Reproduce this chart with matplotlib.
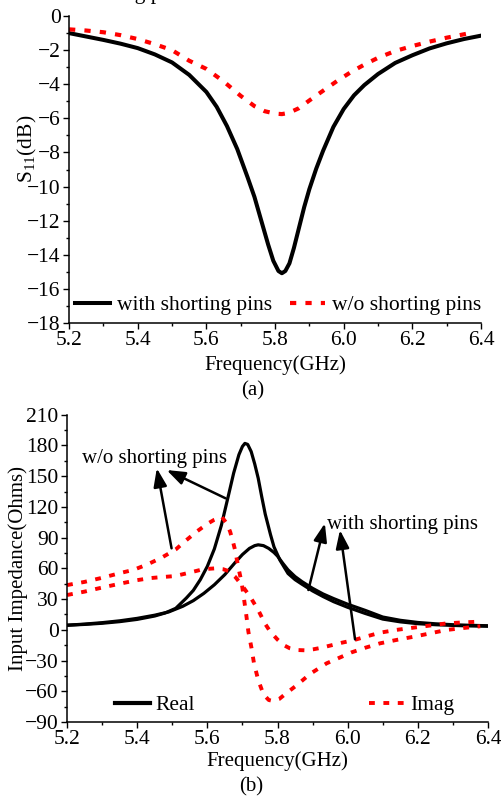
import matplotlib
matplotlib.use('Agg')
import matplotlib.pyplot as plt
from matplotlib.lines import Line2D
from matplotlib.ticker import MultipleLocator, FormatStrFormatter

plt.rcParams['font.family'] = ['Liberation Serif', 'DejaVu Serif']
plt.rcParams['axes.linewidth'] = 1.1

# (a) S11 in dB
f_with = [5.20, 5.25, 5.30, 5.35, 5.40, 5.45, 5.50, 5.55, 5.60, 5.63, 5.66, 5.69, 5.72, 5.74,
          5.76, 5.78, 5.795, 5.81, 5.82, 5.83, 5.842, 5.855, 5.87, 5.885, 5.90, 5.92, 5.94,
          5.97, 6.00, 6.03, 6.06, 6.10, 6.15, 6.20, 6.25, 6.30, 6.35, 6.40]
s11_with = [-1.00, -1.20, -1.40, -1.62, -1.88, -2.25, -2.72, -3.45, -4.45, -5.32, -6.45, -7.8,
            -9.45, -10.6, -12.0, -13.4, -14.35, -14.95, -15.08, -14.95, -14.5, -13.6, -12.4,
            -11.2, -10.15, -8.95, -7.9, -6.5, -5.45, -4.65, -4.05, -3.4, -2.75, -2.3, -1.9,
            -1.6, -1.35, -1.15]
f_wo = [5.20, 5.25, 5.30, 5.35, 5.40, 5.45, 5.50, 5.55, 5.60, 5.65, 5.70, 5.74, 5.77, 5.80,
        5.82, 5.84, 5.87, 5.90, 5.94, 5.98, 6.02, 6.06, 6.10, 6.15, 6.20, 6.25, 6.30, 6.373]
s11_wo = [-0.78, -0.85, -0.95, -1.12, -1.35, -1.65, -2.0, -2.62, -3.1, -3.83, -4.68, -5.28,
          -5.58, -5.72, -5.75, -5.68, -5.4, -4.95, -4.38, -3.82, -3.3, -2.85, -2.45, -2.05,
          -1.76, -1.5, -1.27, -0.98]

# (b) input impedance, real parts
f_re_wo = [5.20, 5.25, 5.30, 5.35, 5.40, 5.45, 5.48, 5.51, 5.54, 5.56, 5.58, 5.60, 5.62, 5.64,
           5.66, 5.675, 5.69, 5.70, 5.707, 5.715, 5.725, 5.735, 5.745, 5.755, 5.765, 5.78,
           5.79, 5.807, 5.83, 5.85, 5.87, 5.90, 5.93, 5.96, 6.00, 6.05, 6.10, 6.15, 6.20,
           6.25, 6.30, 6.35, 6.40]
re_wo = [4.5, 5.3, 6.4, 8.0, 10.2, 13.5, 16.5, 21, 31, 38.5, 49, 62, 79, 102,
         131, 153, 171, 179, 182, 181, 174, 162, 148, 130, 113, 93,
         81, 68, 55, 49, 44.5, 38, 32.5, 27.5, 22, 16, 10.5, 7.8, 6.0,
         5.0, 4.3, 3.8, 3.5]
f_re_with = [5.20, 5.25, 5.30, 5.35, 5.40, 5.45, 5.49, 5.53, 5.56, 5.59, 5.62, 5.65, 5.68,
             5.70, 5.72, 5.735, 5.745, 5.76, 5.775, 5.79, 5.80, 5.815, 5.83, 5.85, 5.87,
             5.90, 5.93, 5.96, 6.00, 6.05, 6.10, 6.15, 6.20, 6.25, 6.30, 6.35, 6.40]
re_with = [4.5, 5.6, 7.0, 8.8, 11.2, 14.3, 17.5, 23, 28.5, 35.6, 44, 54, 66,
           73.5, 79.5, 82.2, 83, 82.2, 79.5, 75.5, 72, 65, 58.5, 52, 47,
           40.5, 35, 30.5, 25, 19, 12.5, 9.3, 7.2, 5.9, 5.0, 4.4, 4.0]

# imaginary parts
f_im_wo = [5.20, 5.25, 5.30, 5.35, 5.39, 5.43, 5.47, 5.51, 5.54, 5.57, 5.60, 5.62, 5.641,
           5.655, 5.665, 5.673, 5.679, 5.688, 5.698, 5.705, 5.711, 5.717, 5.726, 5.733,
           5.745, 5.76, 5.775, 5.788, 5.805, 5.821, 5.855, 5.893, 5.94, 5.978, 6.011, 6.05,
           6.092, 6.14, 6.187, 6.23, 6.28, 6.33, 6.378]
im_wo = [43.7, 46.8, 50.8, 55.3, 58.6, 64, 70.5, 78.5, 87.5, 96, 103.5, 107.5, 110.4,
         104, 95.8, 86, 78, 61.6, 45.6, 29, 14.4, -1.9, -18, -32.7,
         -49, -63, -68.5, -69.5, -67.5, -63, -54, -43, -32.7, -27, -22, -17.5,
         -13.2, -9.8, -6.8, -3.8, -0.2, 1.8, 3.5]
f_im_with = [5.20, 5.25, 5.294, 5.35, 5.40, 5.437, 5.47, 5.508, 5.545, 5.579, 5.60, 5.622,
             5.645, 5.66, 5.68, 5.698, 5.71, 5.722, 5.735, 5.745, 5.755, 5.764, 5.776, 5.788,
             5.80, 5.817, 5.835, 5.855, 5.88, 5.902, 5.925, 5.945, 5.983, 6.018, 6.055,
             6.092, 6.14, 6.187, 6.235, 6.282, 6.33, 6.378]
im_with = [34, 37.3, 40.8, 45, 48.5, 50.5, 51.5, 52.5, 55.5, 58.4, 59.5, 60,
           59.2, 57.4, 51.5, 43.7, 38, 32.3, 25, 19.3, 12.5, 6.3, 0, -5,
           -9.5, -14.8, -18, -19.7, -20, -19, -17.5, -15.8, -12.6, -10, -6.3,
           -2.8, 0, 2.1, 4.2, 6.3, 7.3, 8]

red = '#ff0000'
dots = (0, (1.5, 2.2))
fs = 15.5


def style_axes(ax, ymaj, ymin):
    ax.spines['top'].set_visible(False)
    ax.spines['right'].set_visible(False)
    ax.xaxis.set_major_locator(MultipleLocator(0.2))
    ax.xaxis.set_minor_locator(MultipleLocator(0.1))
    ax.yaxis.set_major_locator(MultipleLocator(ymaj))
    ax.yaxis.set_minor_locator(MultipleLocator(ymin))
    ax.tick_params(which='major', direction='out', length=4.5, width=1.0, labelsize=fs, pad=1.5)
    ax.tick_params(which='minor', direction='out', length=2.5, width=1.0)
    ax.xaxis.set_major_formatter(FormatStrFormatter('%.1f'))


fig = plt.figure(figsize=(5.02, 7.98), dpi=100)

# top panel
ax1 = fig.add_axes([0.1375, 0.5952, 0.8207, 0.3847])
ax1.plot(f_with, s11_with, color='k', lw=2.9)
ax1.plot(f_wo, s11_wo, color=red, lw=3.0, linestyle=dots)
ax1.set_xlim(5.2, 6.4)
ax1.set_ylim(-18, 0)
style_axes(ax1, 2, 1)
ax1.set_xlabel('Frequency(GHz)', fontsize=15)
ax1.xaxis.set_label_coords(0.5, -0.105)
ax1.set_ylabel('S$_{\\mathregular{11}}$(dB)', fontsize=15.5)
ax1.yaxis.set_label_coords(-0.072, 0.567)
h1 = [Line2D([], [], color='k', lw=2.9), Line2D([], [], color=red, lw=3.0, linestyle=dots)]
ax1.legend(h1, ['with shorting pins', 'w/o shorting pins'], loc='center left',
           bbox_to_anchor=(0.0146, 0.0586), ncol=2, frameon=False, fontsize=fs,
           handlelength=1.63, handletextpad=0.33, columnspacing=0.8,
           borderpad=0, borderaxespad=0)

# bottom panel
ax2 = fig.add_axes([0.1335, 0.0952, 0.8386, 0.3851])
ax2.plot(f_re_wo, re_wo, color='k', lw=2.3)
ax2.plot(f_re_with, re_with, color='k', lw=2.3)
ax2.plot(f_im_wo, im_wo, color=red, lw=2.8, linestyle=dots)
ax2.plot(f_im_with, im_with, color=red, lw=2.8, linestyle=dots)
ax2.set_xlim(5.2, 6.4)
ax2.set_ylim(-90, 210)
style_axes(ax2, 30, 15)
ax2.set_xlabel('Frequency(GHz)', fontsize=15)
ax2.xaxis.set_label_coords(0.5, -0.095)
ax2.set_ylabel('Input Impedance(Ohms)', fontsize=15)
ax2.yaxis.set_label_coords(-0.093, 0.5)
h2 = [Line2D([], [], color='k', lw=3.0), Line2D([], [], color=red, lw=2.8, linestyle=dots)]
ax2.legend(h2, ['Real', 'Imag'], loc='center left', bbox_to_anchor=(0.114, 0.055),
           ncol=2, frameon=False, fontsize=fs, handlelength=1.63, handletextpad=0.25,
           columnspacing=8.1, borderpad=0, borderaxespad=0)

arrow = dict(arrowstyle='-|>,head_length=0.55,head_width=0.2', color='k', lw=1.8,
             mutation_scale=20, shrinkA=0, shrinkB=0)
ax2.annotate('', xy=(5.456, 157.7), xytext=(5.498, 79.6), arrowprops=arrow)
ax2.annotate('', xy=(5.484, 156.0), xytext=(5.652, 128.4), arrowprops=arrow)
ax2.annotate('', xy=(5.935, 104.0), xytext=(5.888, 38.9), arrowprops=arrow)
ax2.annotate('', xy=(5.978, 97.4), xytext=(6.021, -9.3), arrowprops=arrow)
ax2.text(5.243, 167.7, 'w/o shorting pins', fontsize=15, va='center')
ax2.text(5.941, 103.0, 'with shorting pins', fontsize=15, va='center')

fig.text(253 / 502, 1 - 391 / 798, '(a)', fontsize=15, ha='center', va='center')
fig.text(251 / 502, 1 - 787 / 798, '(b)', fontsize=15, ha='center', va='center')
# caption of the figure above, cut off at the top edge of the crop
fig.text(75 / 502, 1 + 1.5 / 798, 'shorting pins', fontsize=15.5, va='baseline')

fig.savefig('out.png', dpi=100)
